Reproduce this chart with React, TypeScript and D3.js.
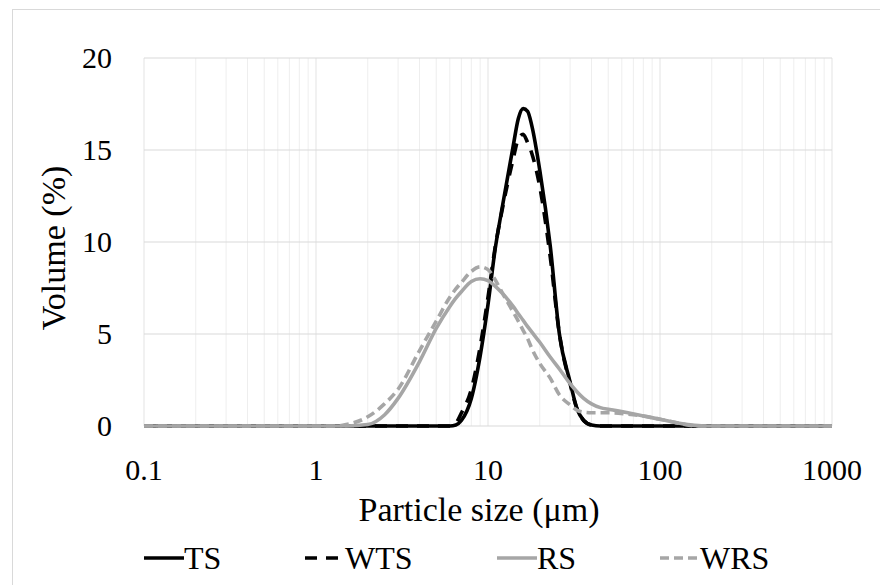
import React, { useEffect, useRef } from "react";
import * as d3 from "d3";

// particle size classes (µm) shared by all four series
const sizes = [
  0.1, 1, 1.3, 1.5, 2, 2.5, 3, 4, 5, 6, 6.5, 7, 8, 9, 10, 11, 12, 14, 15, 16,
  17, 18, 20, 23, 26, 30, 33, 36, 40, 45, 51, 64, 80, 100, 125, 150, 180, 1000,
];

// volume (%)
const tsValues = [
  0, 0, 0, 0, 0, 0, 0, 0, 0, 0, 0.05, 0.3, 1.5, 3.8, 6.6, 9.6, 11.7, 15.2,
  16.7, 17.25, 17.1, 16.3, 13.9, 9.8, 5.0, 2.4, 0.9, 0.3, 0.05, 0, 0, 0, 0, 0,
  0, 0, 0, 0,
];
const wtsValues = [
  0, 0, 0, 0, 0, 0, 0, 0, 0, 0, 0.15, 0.7, 2.0, 4.3, 7.0, 9.7, 11.6, 14.5,
  15.6, 15.85, 15.4, 14.8, 13.0, 9.2, 5.0, 2.3, 0.9, 0.3, 0.05, 0, 0, 0, 0, 0,
  0, 0, 0, 0,
];
const rsValues = [
  0, 0, 0, 0, 0.08, 0.6, 1.5, 3.5, 5.3, 6.5, 6.95, 7.3, 7.85, 8.0, 7.9, 7.6,
  7.25, 6.5, 6.1, 5.75, 5.4, 5.1, 4.55, 3.75, 3.1, 2.3, 1.85, 1.5, 1.2, 1.0,
  0.9, 0.73, 0.54, 0.37, 0.18, 0.06, 0, 0,
];
const wrsValues = [
  0, 0, 0, 0.08, 0.5, 1.2, 2.0, 4.1, 5.7, 7.0, 7.45, 7.8, 8.4, 8.65, 8.5, 7.95,
  7.3, 6.2, 5.7, 5.2, 4.75, 4.2, 3.4, 2.6, 1.7, 1.15, 0.85, 0.75, 0.72, 0.72,
  0.72, 0.65, 0.54, 0.37, 0.18, 0.03, 0, 0,
];

const seriesNames = ["TS", "WTS", "RS", "WRS"];
const seriesValues = [tsValues, wtsValues, rsValues, wrsValues];
const xTicks = [0.1, 1, 10, 100, 1000];
const xTickLabels = ["0.1", "1", "10", "100", "1000"];
const yTicks = [0, 5, 10, 15, 20];

const styles = [
  { color: "#000000", dash: null },
  { color: "#000000", dash: "12,9" },
  { color: "#a6a6a6", dash: null },
  { color: "#a6a6a6", dash: "9,5" },
];
const legendX = [144, 305, 497, 660];

const font = "Liberation Serif";

export default function App() {
  const svgRef = useRef<SVGSVGElement>(null);

  useEffect(() => {
    // force the serif face on every label
    d3.select(svgRef.current)
      .selectAll("text")
      .style("font-family", font, "important");
  }, []);

  const x = d3.scaleLog().domain([0.1, 1000]).range([144, 832]);
  const y = d3.scaleLinear().domain([0, 20]).range([426, 58]);

  const minor: number[] = [];
  [0.1, 1, 10, 100].forEach((dec) => {
    for (let k = 2; k <= 9; k++) minor.push(dec * k);
  });

  const line = d3
    .line<number>()
    .x((_, i) => x(sizes[i]))
    .y((d) => y(d))
    .curve(d3.curveMonotoneX);

  return (
    <svg
      ref={svgRef}
      id="psd"
      width={880}
      height={585}
      style={{ position: "absolute", left: 0, top: 0, background: "#fff" }}
    >
      <style>{`#psd text { font-family: "Liberation Serif" !important; }`}</style>
      <rect x={12.5} y={9.5} width={900} height={600} fill="#fff" stroke="#d9d9d9" />

      {minor.map((v) => (
        <line key={"m" + v} x1={x(v)} x2={x(v)} y1={y(20)} y2={y(0)} stroke="#eeeeee" strokeWidth={1} />
      ))}
      {xTicks.map((v) => (
        <line key={"v" + v} x1={x(v)} x2={x(v)} y1={y(20)} y2={y(0)} stroke="#e3e3e3" strokeWidth={1} />
      ))}
      {yTicks.map((v) => (
        <line key={"h" + v} x1={x(0.1)} x2={x(1000)} y1={y(v)} y2={y(v)} stroke="#d9d9d9" strokeWidth={1.2} />
      ))}

      {seriesValues.map((vals, i) => (
        <path
          key={seriesNames[i]}
          d={line(vals) || ""}
          fill="none"
          stroke={styles[i].color}
          strokeWidth={3.6}
          strokeDasharray={styles[i].dash || undefined}
          strokeLinejoin="round"
        />
      ))}

      {xTicks.map((v, i) => (
        <text key={"xt" + v} x={x(v)} y={480} textAnchor="middle" fontFamily={font} fontSize={30} fill="#000">
          {xTickLabels[i]}
        </text>
      ))}
      {yTicks.map((v) => (
        <text key={"yt" + v} x={112} y={y(v) + 10} textAnchor="end" fontFamily={font} fontSize={30} fill="#000">
          {v}
        </text>
      ))}

      <text x={479} y={521} textAnchor="middle" fontFamily={font} fontSize={34} fill="#000">
        Particle size (μm)
      </text>
      <text
        transform="translate(65,248) rotate(-90)"
        textAnchor="middle"
        fontFamily={font}
        fontSize={34}
        fill="#000"
      >
        Volume (%)
      </text>

      {seriesNames.map((name, i) => (
        <g key={"lg" + name}>
          <line
            x1={legendX[i]}
            x2={legendX[i] + 40}
            y1={558}
            y2={558}
            stroke={styles[i].color}
            strokeWidth={3.6}
            strokeDasharray={styles[i].dash || undefined}
          />
          <text x={legendX[i] + 40} y={569} fontFamily={font} fontSize={32} fill="#000">
            {name}
          </text>
        </g>
      ))}
    </svg>
  );
}
